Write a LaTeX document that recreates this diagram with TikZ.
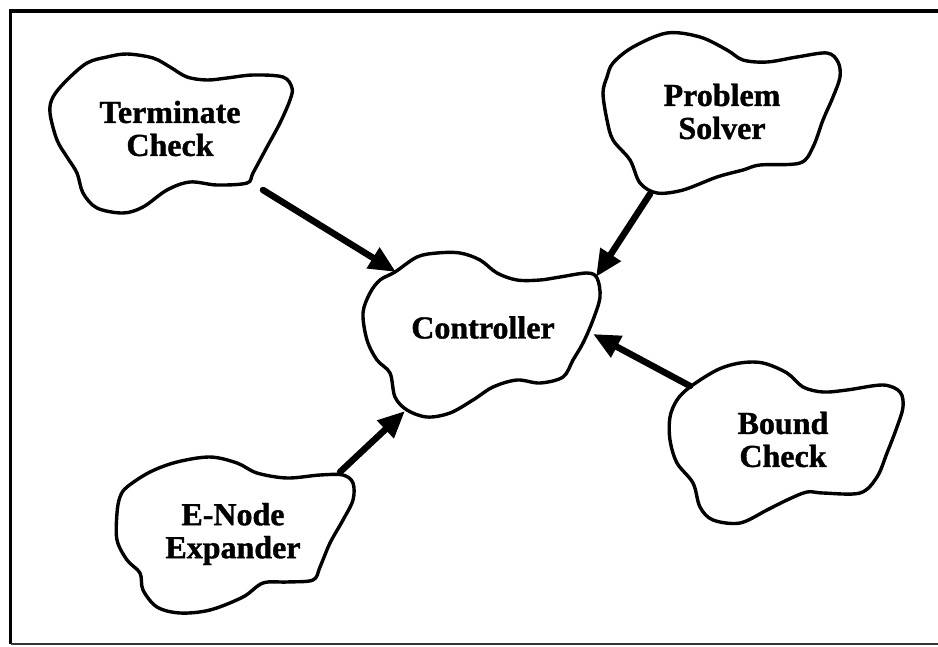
\documentclass[tikz,border=0pt]{standalone}
\usepackage{fontspec}
\setmainfont{Liberation Serif}
\newfontfamily\blobfont{Liberation Serif Bold}[FakeBold=1.2]
\usetikzlibrary{arrows.meta}

\begin{document}
\begin{tikzpicture}[x=1pt,y=-1pt,
  blob/.style={line width=3.4pt, line join=round},
  label/.style={font=\fontsize{32}{33}\blobfont, align=center, inner sep=0pt},
  flow/.style={line width=6.5pt, line cap=round, -{Triangle[length=27pt,width=23pt]}},
  frameline/.style={line width=3.5pt}
]
\useasboundingbox (0,0) rectangle (938,646);

% outer frame (open on the right)
\draw[frameline] (938,11) -- (10.5,11) -- (10.5,644);
\draw[line width=2.5pt, black!80] (10.5,644) -- (938,644);

% module outlines
\draw[blob] plot[smooth cycle, tension=0.55] coordinates {
  (127,54) (153,58) (170,67) (187,77) (207,80) (227,78) (253,75) (283,77)
  (292,88) (290,100) (280,123) (267,147) (253,173) (247,183) (217,185)
  (190,182) (167,190) (143,207) (123,213) (97,208) (83,193) (77,173)
  (67,157) (57,140) (50,113) (53,97) (67,80) (87,63) (107,57)};

\draw[blob] plot[smooth cycle, tension=0.55] coordinates {
  (613,63) (633,47) (667,33) (700,37) (727,50) (743,60) (767,62) (797,57)
  (827,53) (838,62) (840,77) (833,97) (823,120) (813,147) (800,163)
  (760,165) (743,170) (717,177) (683,190) (657,193) (640,183) (630,160)
  (613,140) (607,120) (603,93) (607,77)};

\draw[blob] plot[smooth cycle, tension=0.55] coordinates {
  (395,272) (417,257) (437,253) (460,253) (480,260) (497,273) (517,280)
  (540,280) (560,277) (587,273) (597,278) (600,297) (593,320) (583,343)
  (573,360) (563,377) (540,383) (517,380) (493,387) (473,400) (450,413)
  (427,417) (407,410) (395,397) (390,373) (377,360) (367,340) (363,313)
  (370,293) (380,280)};

\draw[blob] plot[smooth cycle, tension=0.55] coordinates {
  (127,487) (150,472) (177,462) (210,457) (237,463) (257,473) (287,478)
  (320,475) (343,475) (353,483) (353,500) (343,520) (330,543) (320,567)
  (313,580) (287,582) (263,583) (243,597) (210,610) (180,613) (157,607)
  (143,590) (140,573) (127,560) (117,540) (117,513) (120,497)};

\draw[blob] plot[smooth cycle, tension=0.55] coordinates {
  (690,387) (717,370) (740,363) (763,363) (787,373) (803,387) (823,392)
  (847,390) (883,385) (900,392) (903,407) (897,427) (887,453) (877,477)
  (860,493) (823,493) (807,492) (787,500) (767,510) (740,523) (713,520)
  (700,507) (693,483) (677,463) (670,440) (670,417) (677,400)};

% module names
\node[label] (tc)  at (170,128.5) {Terminate\\Check};
\node[label] (ps)  at (722,111.5) {Problem\\Solver};
\node[label] (ctl) at (483,327.5) {Controller};
\node[label] (en)  at (233,534)   {E-Node\\Expander};
\node[label] (bc)  at (783,439.5) {Bound\\Check};

% attachment points on the outlines
\coordinate (tc-out)    at (263,190);
\coordinate (ps-out)    at (650,194);
\coordinate (bc-out)    at (690,386);
\coordinate (en-out)    at (340,472);
\coordinate (ctl-in-tc) at (396,272);
\coordinate (ctl-in-ps) at (596,277);
\coordinate (ctl-in-bc) at (593,334);
\coordinate (ctl-in-en) at (405,411);

% control flow into the controller
\draw[flow] (tc-out) -- (ctl-in-tc);
\draw[flow] (ps-out) -- (ctl-in-ps);
\draw[flow] (bc-out) -- (ctl-in-bc);
\draw[flow] (en-out) -- (ctl-in-en);
\end{tikzpicture}
\end{document}
